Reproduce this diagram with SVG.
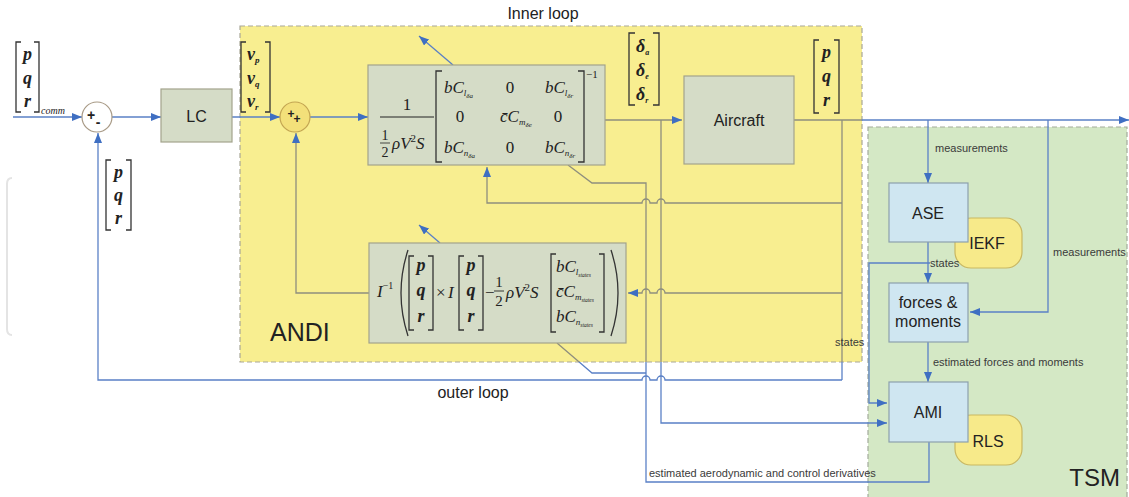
<svg xmlns="http://www.w3.org/2000/svg" xmlns:xlink="http://www.w3.org/1999/xlink" width="1129" height="497" viewBox="0 0 1129 497">
<style>
.box{fill:#d5dcc7;stroke:#a3a38c;stroke-width:1.2}
.tbox{fill:#cfe6f1;stroke:#8ca0ad;stroke-width:1.2}
.ybox{fill:#f7ea8a;stroke:#c9b761;stroke-width:1.2}
.lbl{font-family:"Liberation Sans",Arial,sans-serif;fill:#222}
.sm{font-family:"Liberation Sans",Arial,sans-serif;fill:#3a3a3a;font-size:11px}
.m{font-family:"Liberation Serif","Times New Roman",serif;font-style:italic;fill:#222;font-size:17px}
.mb{font-family:"Liberation Serif","Times New Roman",serif;font-style:italic;font-weight:bold;fill:#222;font-size:18px}
.r{font-style:normal}
.br{fill:none;stroke:#333;stroke-width:1.3}
.c{fill:none;stroke-width:1.3}
.blue{stroke:#5a80c6}
.gray{stroke:#8e8e7e}
.dash{stroke-dasharray:5 3;stroke-width:1.2}
</style>
<defs>
<marker id="ah" viewBox="0 0 10 8" refX="10" refY="4" markerWidth="10" markerHeight="8" markerUnits="userSpaceOnUse" orient="auto"><path d="M0,0 L10,4 L0,8 z" fill="#3f6fc2"/></marker>
<clipPath id="inside"><rect x="240" y="26" width="622" height="336"/></clipPath>
<clipPath id="outside"><path clip-rule="evenodd" d="M0,0H1129V497H0Z M240,26H862V362H240Z"/></clipPath>
<g id="mixed" class="c">
<path d="M605,120 H682" marker-end="url(#ah)"/>
<path d="M794,120 H1129" marker-end="url(#ah)"/>
<path d="M842,120 V380"/>
<path d="M842,203 H665 A4,4 0 0 0 657,203 H650 A4,4 0 0 0 642,203 H487 V167" marker-end="url(#ah)"/>
<path d="M842,293 H665 A4,4 0 0 0 657,293 H650 A4,4 0 0 0 642,293 H628" marker-end="url(#ah)"/>
<path d="M842,380 H665 A4,4 0 0 0 657,380 H650 A4,4 0 0 0 642,380 H98 V133" marker-end="url(#ah)"/>
<path d="M661,120 V423 H887" marker-end="url(#ah)"/>
<path d="M568,165 L592,183 H646 V482 H929 V442"/>
<path d="M557,343 L592,373 H646"/>
<path d="M369,293 H296 V133" marker-end="url(#ah)"/>
</g>
</defs>
<rect width="1129" height="497" fill="#ffffff"/>
<path d="M12,178 Q7,178 7,184 V329 Q7,335 12,335" fill="none" stroke="#e4e4e4" stroke-width="2"/>

<g id="g-andi">
<rect x="240" y="26" width="622" height="336" fill="#f8ee90" stroke="#a9a797" class="dash"/>
<text class="lbl" x="270" y="341" font-size="25">ANDI</text>
<text class="lbl" x="543" y="19" font-size="16" text-anchor="middle">Inner loop</text>
</g>
<g id="g-tsm">
<rect x="868" y="127" width="259" height="375" fill="#d4e8c5" stroke="#a3ab9c" class="dash"/>
<text class="lbl" x="1120" y="486" font-size="24" text-anchor="end">TSM</text>
</g>

<g id="connectors">
<use xlink:href="#mixed" href="#mixed" class="blue" clip-path="url(#outside)"/>
<use xlink:href="#mixed" href="#mixed" class="gray" clip-path="url(#inside)"/>
<g class="c blue">
<path d="M13,117 H82" marker-end="url(#ah)"/>
<path d="M112,117 H161" marker-end="url(#ah)"/>
<path d="M232,117 H280" marker-end="url(#ah)"/>
<path d="M310,117 H368" marker-end="url(#ah)"/>
<path d="M928,120 V183" marker-end="url(#ah)"/>
<path d="M1048,120 V312 H970" marker-end="url(#ah)"/>
<path d="M928,242 V283" marker-end="url(#ah)"/>
<path d="M928,342 V382" marker-end="url(#ah)"/>
<path d="M930,263 H869 V403 H887" marker-end="url(#ah)"/>
<path d="M453,65 L419,36" marker-end="url(#ah)"/>
<path d="M440,243 L419,225" marker-end="url(#ah)"/>
</g>
</g>

<g id="v-pqr-comm">
<path class="br" d="M21,42 H16 V112 H21 M34,42 H39 V112 H34"/>
<text class="mb" x="27.5" y="60" text-anchor="middle">p</text>
<text class="mb" x="27.5" y="84" text-anchor="middle">q</text>
<text class="mb" x="27.5" y="107" text-anchor="middle">r</text>
<text class="m" x="41" y="114" style="font-size:10px">comm</text>
</g>
<g id="n-sum1">
<circle cx="97" cy="117" r="15" fill="#ffffff" stroke="#a89a86" stroke-width="1.2"/>
<text class="lbl" x="91" y="120" font-size="14" font-weight="bold" text-anchor="middle">+</text>
<text class="lbl" x="98" y="127" font-size="14" font-weight="bold" text-anchor="middle">-</text>
</g>
<g id="v-pqr-fb">
<path class="br" d="M111,160 H106 V230 H111 M126,160 H131 V230 H126"/>
<text class="mb" x="118.5" y="178" text-anchor="middle">p</text>
<text class="mb" x="118.5" y="201" text-anchor="middle">q</text>
<text class="mb" x="118.5" y="224" text-anchor="middle">r</text>
</g>
<g id="n-lc">
<rect class="box" x="161" y="89" width="71" height="53"/>
<text class="lbl" x="196.5" y="122" font-size="16" text-anchor="middle">LC</text>
</g>
<g id="v-nu">
<path class="br" d="M246,42 H241 V112 H246 M265,42 H270 V112 H265"/>
<text class="mb" x="247" y="60">ν<tspan font-size="9" dy="3">p</tspan></text>
<text class="mb" x="247" y="84">ν<tspan font-size="9" dy="3">q</tspan></text>
<text class="mb" x="247" y="107">ν<tspan font-size="9" dy="3">r</tspan></text>
</g>
<g id="n-sum2">
<circle cx="295" cy="117" r="15" fill="#f3e07a" stroke="#c3a552" stroke-width="1.2"/>
<text class="lbl" x="291" y="118" font-size="12" font-weight="bold" text-anchor="middle">+</text>
<text class="lbl" x="297" y="123" font-size="12" font-weight="bold" text-anchor="middle">+</text>
</g>

<g id="n-inv">
<rect class="box" x="368" y="65" width="237" height="100"/>
<text class="m r" x="407" y="110" text-anchor="middle">1</text>
<line x1="380" y1="117" x2="434" y2="117" stroke="#222" stroke-width="1"/>
<text class="m r" x="385" y="140" text-anchor="middle" style="font-size:14px">1</text>
<line x1="380" y1="143" x2="390" y2="143" stroke="#222" stroke-width="0.8"/>
<text class="m r" x="385" y="157" text-anchor="middle" style="font-size:14px">2</text>
<text class="m" x="392" y="149">ρV<tspan font-size="11" dy="-7" class="r">2</tspan><tspan dy="7">S</tspan></text>
<path class="br" d="M442,71 H436 V162 H442 M578,71 H584 V162 H578"/>
<text class="m r" x="586" y="78" style="font-size:11px">−1</text>
<text class="m" x="444" y="93">bC<tspan font-size="9" dy="3">l</tspan><tspan font-size="7" dy="2">δa</tspan></text>
<text class="m r" x="510" y="93" text-anchor="middle">0</text>
<text class="m" x="545" y="93">bC<tspan font-size="9" dy="3">l</tspan><tspan font-size="7" dy="2">δr</tspan></text>
<text class="m r" x="460" y="122" text-anchor="middle">0</text>
<text class="m" x="500" y="122">c̄C<tspan font-size="9" dy="3">m</tspan><tspan font-size="7" dy="2">δe</tspan></text>
<text class="m r" x="558" y="122" text-anchor="middle">0</text>
<text class="m" x="444" y="153">bC<tspan font-size="9" dy="3">n</tspan><tspan font-size="7" dy="2">δa</tspan></text>
<text class="m r" x="510" y="153" text-anchor="middle">0</text>
<text class="m" x="545" y="153">bC<tspan font-size="9" dy="3">n</tspan><tspan font-size="7" dy="2">δr</tspan></text>
</g>

<g id="v-delta">
<path class="br" d="M635,33 H629 V105 H635 M653,33 H659 V105 H653"/>
<text class="mb" x="636" y="52">δ<tspan font-size="8" dy="3">a</tspan></text>
<text class="mb" x="636" y="76">δ<tspan font-size="8" dy="3">e</tspan></text>
<text class="mb" x="636" y="100">δ<tspan font-size="8" dy="3">r</tspan></text>
</g>
<g id="n-aircraft">
<rect class="box" x="684" y="76" width="110" height="88"/>
<text class="lbl" x="739" y="126" font-size="16" text-anchor="middle">Aircraft</text>
</g>
<g id="v-pqr-ac">
<path class="br" d="M819,40 H814 V113 H819 M834,40 H839 V113 H834"/>
<text class="mb" x="826.5" y="58" text-anchor="middle">p</text>
<text class="mb" x="826.5" y="82" text-anchor="middle">q</text>
<text class="mb" x="826.5" y="106" text-anchor="middle">r</text>
</g>

<g id="n-ndi">
<rect class="box" x="369" y="243" width="257" height="100"/>
<text class="m" x="377" y="297">I<tspan font-size="10" dy="-8" class="r">−1</tspan></text>
<path class="br" d="M408,250 Q394,293 408,336 M611,250 Q625,293 611,336"/>
<path class="br" d="M414,256 H409 V330 H414 M428,256 H433 V330 H428"/>
<text class="mb" x="421" y="271" text-anchor="middle">p</text>
<text class="mb" x="421" y="296" text-anchor="middle">q</text>
<text class="mb" x="421" y="322" text-anchor="middle">r</text>
<text class="m r" x="436" y="298">×</text>
<text class="m" x="448" y="298">I</text>
<path class="br" d="M464,256 H459 V330 H464 M478,256 H483 V330 H478"/>
<text class="mb" x="471" y="271" text-anchor="middle">p</text>
<text class="mb" x="471" y="296" text-anchor="middle">q</text>
<text class="mb" x="471" y="322" text-anchor="middle">r</text>
<text class="m r" x="485" y="298">−</text>
<text class="m r" x="499" y="287" text-anchor="middle" style="font-size:15px">1</text>
<line x1="494" y1="291" x2="504" y2="291" stroke="#222" stroke-width="0.9"/>
<text class="m r" x="499" y="306" text-anchor="middle" style="font-size:15px">2</text>
<text class="m" x="506" y="298">ρV<tspan font-size="11" dy="-7" class="r">2</tspan><tspan dy="7">S</tspan></text>
<path class="br" d="M556,254 H551 V332 H556 M599,254 H604 V332 H599"/>
<text class="m" x="556" y="272">bC<tspan font-size="9" dy="3">l</tspan><tspan font-size="5.5" dy="2">states</tspan></text>
<text class="m" x="556" y="297">c̄C<tspan font-size="9" dy="3">m</tspan><tspan font-size="5.5" dy="2">states</tspan></text>
<text class="m" x="556" y="322">bC<tspan font-size="9" dy="3">n</tspan><tspan font-size="5.5" dy="2">states</tspan></text>
</g>

<g id="n-iekf">
<rect class="ybox" x="955" y="218" width="67" height="50" rx="16"/>
<text class="lbl" x="987" y="249" font-size="16" text-anchor="middle">IEKF</text>
</g>
<g id="n-ase">
<rect class="tbox" x="889" y="183" width="79" height="59"/>
<text class="lbl" x="928" y="219" font-size="16" text-anchor="middle">ASE</text>
</g>
<g id="n-forces">
<rect class="tbox" x="889" y="283" width="79" height="59"/>
<text class="lbl" x="928" y="308" font-size="16" text-anchor="middle">forces &amp;</text>
<text class="lbl" x="928" y="327" font-size="16" text-anchor="middle">moments</text>
</g>
<g id="n-rls">
<rect class="ybox" x="955" y="415" width="67" height="50" rx="16"/>
<text class="lbl" x="988" y="447" font-size="16" text-anchor="middle">RLS</text>
</g>
<g id="n-ami">
<rect class="tbox" x="889" y="382" width="79" height="60"/>
<text class="lbl" x="928" y="418" font-size="16" text-anchor="middle">AMI</text>
</g>

<g id="labels">
<text class="sm" x="935" y="152">measurements</text>
<text class="sm" x="1053" y="256">measurements</text>
<text class="sm" x="930" y="267">states</text>
<text class="sm" x="835" y="346">states</text>
<text class="sm" x="933" y="366">estimated forces and moments</text>
<text class="sm" x="649" y="477">estimated aerodynamic and control derivatives</text>
<text class="lbl" x="473" y="398" font-size="16" text-anchor="middle">outer loop</text>
</g>
</svg>
